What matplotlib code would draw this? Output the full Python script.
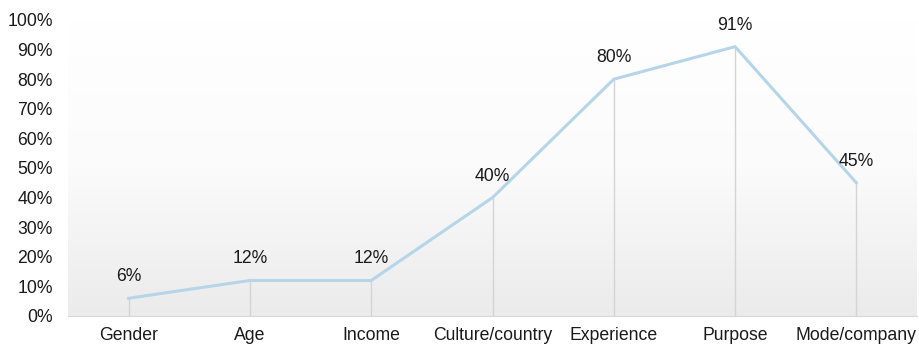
import numpy as np
import matplotlib.pyplot as plt
from matplotlib.colors import LinearSegmentedColormap

categories = ["Gender", "Age", "Income", "Culture/country", "Experience", "Purpose", "Mode/company"]
values = [6, 12, 12, 40, 80, 91, 45]
yticks = [0, 10, 20, 30, 40, 50, 60, 70, 80, 90, 100]

plt.rcParams["font.family"] = ["Liberation Sans", "DejaVu Sans"]
FS = 12.7

fig = plt.figure(figsize=(9.19, 3.47), dpi=100)
ax = fig.add_axes([68 / 919, 31 / 347, 849 / 919, 296 / 347])

x = np.arange(len(categories))

# soft vertical gradient behind the plot, white at top, light grey at bottom
grad = LinearSegmentedColormap.from_list("bg", ["#ffffff", "#fbfbfb", "#ebebeb"])
ax.imshow(np.linspace(1, 0, 256).reshape(-1, 1), cmap=grad, aspect="auto", origin="lower",
          extent=(-0.5, len(categories) - 0.5, 0, 100), zorder=0)
ax.set_xlim(-0.5, len(categories) - 0.5)
ax.set_ylim(0, 100)

ax.vlines(x, 0, values, color="#d4d4d4", lw=1, zorder=1)
ax.plot(x, values, color="#b5d5e9", lw=2.2, zorder=2, solid_joinstyle="round")

for xi, v in zip(x, values):
    ax.annotate(f"{v}%", (xi, v), xytext=(0, 15.5), textcoords="offset points",
                ha="center", va="center", fontsize=FS, color="#1a1a1a")

ax.set_xticks(x)
ax.set_xticklabels(categories, fontsize=FS, color="#1a1a1a")
ax.set_yticks(yticks)
ax.set_yticklabels([f"{t}%" for t in yticks], fontsize=FS, color="#1a1a1a")
ax.tick_params(length=0)
ax.tick_params(axis="x", pad=8)
ax.tick_params(axis="y", pad=11)
for s in ["top", "right", "left"]:
    ax.spines[s].set_visible(False)
ax.spines["bottom"].set_color("#d8d8d8")

fig.savefig("out.png", dpi=100)
